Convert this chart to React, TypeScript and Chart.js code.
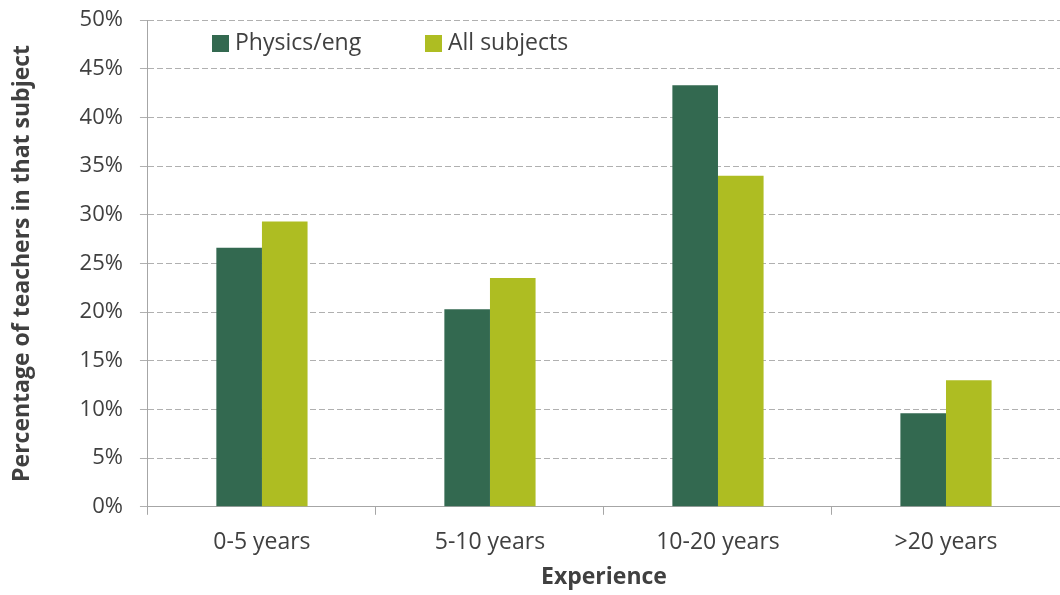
import React, { useEffect, useRef } from "react";
import { Chart, registerables } from "chart.js";

Chart.register(...registerables);

const categories = ["0-5 years", "5-10 years", "10-20 years", ">20 years"];
const physicsEng = [26.6, 20.3, 43.3, 9.6];
const allSubjects = [29.3, 23.5, 34.0, 13.0];
const seriesNames = ["Physics/eng", "All subjects"];
const seriesColors = ["#336950", "#AEBD22"];
const FONT = "'Open Sans', 'Noto Sans', sans-serif";
const TEXT = "#404040";

const legendPlugin = {
  id: "insideLegend",
  afterDraw(chart: any) {
    const ctx = chart.ctx;
    ctx.save();
    ctx.font = `23px ${FONT}`;
    ctx.textBaseline = "middle";
    ctx.textAlign = "left";
    const y = 43;
    let x = 212;
    chart.data.datasets.forEach((ds: any) => {
      ctx.fillStyle = ds.backgroundColor;
      ctx.fillRect(x, y - 8, 17, 17);
      ctx.fillStyle = TEXT;
      ctx.fillText(ds.label, x + 23, y);
      x += 213;
    });
    ctx.restore();
  },
};

export default function App() {
  const ref = useRef<HTMLCanvasElement>(null);
  useEffect(() => {
    document.body.style.margin = "0";
    const chart = new Chart(ref.current!, {
      type: "bar",
      data: {
        labels: categories,
        datasets: [
          { label: seriesNames[0], data: physicsEng, backgroundColor: seriesColors[0] },
          { label: seriesNames[1], data: allSubjects, backgroundColor: seriesColors[1] },
        ],
      },
      options: {
        animation: false,
        responsive: false,
        layout: { padding: { top: 0, right: 0, left: 9, bottom: 2 } },
        datasets: { bar: { categoryPercentage: 0.4, barPercentage: 1 } },
        plugins: { legend: { display: false }, tooltip: { enabled: false } },
        scales: {
          x: {
            grid: { drawOnChartArea: false, tickLength: 8, color: "#a6a6a6", offset: true },
            border: { color: "#a6a6a6" },
            ticks: { color: TEXT, font: { family: FONT, size: 23 }, padding: 14 },
            title: {
              display: true,
              text: "Experience",
              color: TEXT,
              font: { family: FONT, size: 23, weight: "bold" },
              padding: { top: -7, bottom: 2 },
            },
          },
          y: {
            min: 0,
            max: 50,
            afterFit: (scale: any) => {
              scale.paddingTop = 20;
            },
            grid: { color: "#b0b0b0", tickLength: 8, drawTicks: true },
            border: { color: "#a6a6a6", dash: [6, 3] } as any,
            ticks: {
              stepSize: 5,
              color: TEXT,
              font: { family: FONT, size: 22 },
              padding: 17,
              callback: (v: any) => v + "%",
            },
            title: {
              display: true,
              text: "Percentage of teachers in that subject",
              color: TEXT,
              font: { family: FONT, size: 23, weight: "bold" },
              padding: { top: 0, bottom: 26 },
            },
          },
        },
      },
      plugins: [legendPlugin],
    });
    return () => chart.destroy();
  }, []);
  return <canvas ref={ref} width={1060} height={595} style={{ display: "block" }} />;
}
